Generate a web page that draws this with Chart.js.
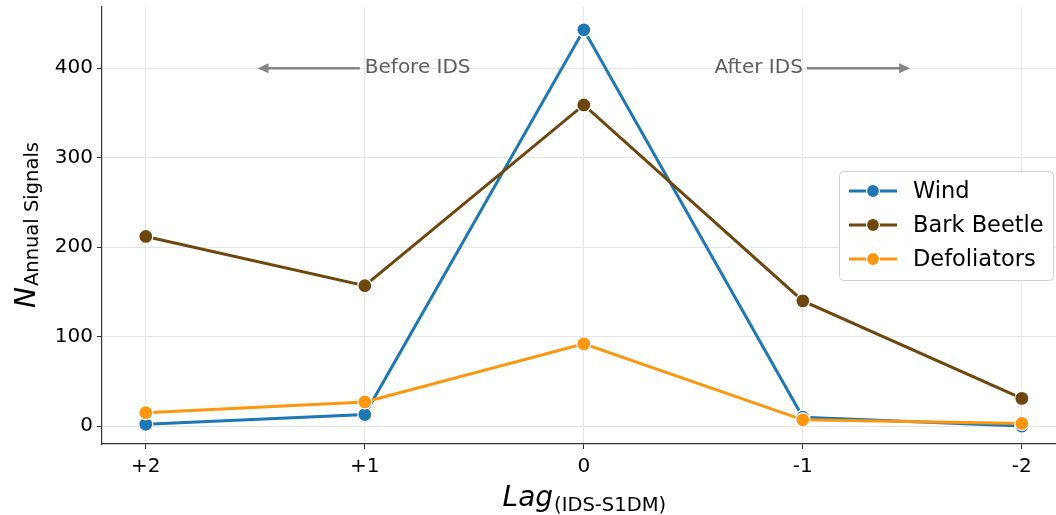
<!DOCTYPE html>
<html>
<head>
<meta charset="utf-8">
<script src="https://cdn.jsdelivr.net/npm/chart.js@4"></script>
<style>
  html, body { margin: 0; background: #fff; overflow: hidden; }
  #wrap { width: 1056px; height: 515px; }
</style>
</head>
<body>
<div id="wrap"><canvas id="lagChart"></canvas></div>
<script>
// values
const lagLabels = ['+2', '+1', '0', '-1', '-2'];
const windCounts = [2, 13, 443, 10, 0];
const barkBeetleCounts = [212, 157, 359, 140, 31];
const defoliatorCounts = [15, 27, 92, 7, 3];
const yTicks = [0, 100, 200, 300, 400];

const FONT = '"DejaVu Sans", Verdana, sans-serif';
const toPoints = arr => arr.map((v, i) => ({ x: i, y: v }));

const series = [
    { label: 'Wind', data: windCounts, color: '#1f77b4', order: 2 },
    { label: 'Bark Beetle', data: barkBeetleCounts, color: '#6e470f', order: 1 },
    { label: 'Defoliators', data: defoliatorCounts, color: '#ff9610', order: 0 }
];

function arrow(ctx, x1, y, x2) {
    const dir = Math.sign(x2 - x1);
    ctx.strokeStyle = '#858585';
    ctx.fillStyle = '#858585';
    ctx.lineWidth = 2.5;
    ctx.beginPath();
    ctx.moveTo(x1, y);
    ctx.lineTo(x2 - dir * 8, y);
    ctx.stroke();
    ctx.beginPath();
    ctx.moveTo(x2, y);
    ctx.lineTo(x2 - dir * 11, y - 5);
    ctx.lineTo(x2 - dir * 11, y + 5);
    ctx.closePath();
    ctx.fill();
}

// drop the automatic label overflow padding so the plot box is fixed
function noPad(scale) {
    scale.paddingLeft = 0;
    scale.paddingRight = 0;
    scale.paddingTop = 0;
    scale.paddingBottom = 0;
}

const extras = {
    id: 'extras',
    afterDatasetsDraw(chart) {
        const ctx = chart.ctx;
        const xs = chart.scales.x;
        const ys = chart.scales.y;
        ctx.save();

        // before / after annotations
        const ay = ys.getPixelForValue(400);
        ctx.font = '20px ' + FONT;
        ctx.fillStyle = '#5e5e5e';
        ctx.textBaseline = 'middle';
        ctx.textAlign = 'left';
        ctx.fillText('Before IDS', xs.getPixelForValue(1), ay);
        ctx.textAlign = 'right';
        ctx.fillText('After IDS', xs.getPixelForValue(3), ay);
        arrow(ctx, xs.getPixelForValue(1) - 5, ay, xs.getPixelForValue(0.51));
        arrow(ctx, xs.getPixelForValue(3) + 4, ay, xs.getPixelForValue(3.49));

        // legend
        const lx = 839, ly = 171, lw = 214, lh = 109;
        ctx.beginPath();
        ctx.roundRect(lx + 0.5, ly + 0.5, lw, lh, 4);
        ctx.fillStyle = 'rgba(255,255,255,0.85)';
        ctx.fill();
        ctx.strokeStyle = '#d0d0d0';
        ctx.lineWidth = 1;
        ctx.stroke();
        ctx.font = '22.5px ' + FONT;
        ctx.textAlign = 'left';
        ctx.textBaseline = 'middle';
        series.forEach((s, i) => {
            const ry = 191 + i * 34;
            ctx.strokeStyle = s.color;
            ctx.lineWidth = 3;
            ctx.beginPath();
            ctx.moveTo(849, ry);
            ctx.lineTo(897, ry);
            ctx.stroke();
            ctx.beginPath();
            ctx.arc(873, ry, 6.5, 0, Math.PI * 2);
            ctx.fillStyle = s.color;
            ctx.fill();
            ctx.strokeStyle = '#fff';
            ctx.lineWidth = 1.2;
            ctx.stroke();
            ctx.fillStyle = '#000';
            ctx.fillText(s.label, 913, ry + 1);
        });

        // x axis title: Lag_(IDS-S1DM)
        ctx.fillStyle = '#000';
        ctx.textBaseline = 'alphabetic';
        ctx.textAlign = 'left';
        const mainFont = 'italic 28px ' + FONT;
        const subFont = '19.5px ' + FONT;
        ctx.font = mainFont;
        const wLag = ctx.measureText('Lag').width;
        ctx.font = subFont;
        const wSub = ctx.measureText('(IDS-S1DM)').width;
        const sx = xs.getPixelForValue(2) - (wLag + wSub) / 2;
        ctx.font = mainFont;
        ctx.fillText('Lag', sx, 506);
        ctx.font = subFont;
        ctx.fillText('(IDS-S1DM)', sx + wLag + 1, 511);

        // y axis title: N_Annual Signals
        ctx.font = mainFont;
        const wN = ctx.measureText('N').width;
        ctx.font = subFont;
        const wA = ctx.measureText('Annual Signals').width;
        const cy = (chart.chartArea.top + chart.chartArea.bottom) / 2;
        ctx.translate(35, cy + (wN + wA) / 2);
        ctx.rotate(-Math.PI / 2);
        ctx.font = mainFont;
        ctx.fillText('N', 0, 0);
        ctx.font = subFont;
        ctx.fillText('Annual Signals', wN + 1, 3);

        ctx.restore();
    }
};

new Chart(document.getElementById('lagChart'), {
    type: 'line',
    data: {
        datasets: series.map(s => ({
            label: s.label,
            data: toPoints(s.data),
            order: s.order,
            borderColor: s.color,
            backgroundColor: s.color,
            pointBackgroundColor: s.color,
            pointBorderColor: '#fff',
            pointBorderWidth: 1.2,
            pointRadius: 7,
            borderWidth: 3,
            tension: 0,
            fill: false
        }))
    },
    options: {
        responsive: true,
        maintainAspectRatio: false,
        animation: false,
        layout: { autoPadding: false, padding: { top: 7, left: 0, right: 0, bottom: 0 } },
        plugins: { legend: { display: false }, tooltip: { enabled: false } },
        scales: {
            x: {
                type: 'linear',
                min: -0.2,
                max: 4.156,
                afterBuildTicks: scale => { scale.ticks = lagLabels.map((_, i) => ({ value: i })); },
                afterFit: scale => { scale.height = 71; noPad(scale); },
                ticks: {
                    callback: v => lagLabels[v],
                    color: '#000',
                    font: { family: FONT, size: 20 },
                    padding: 6,
                    maxRotation: 0
                },
                grid: { color: '#e6e6e6', tickColor: '#333', tickLength: 5 },
                border: { color: '#333', width: 1.2 }
            },
            y: {
                min: -20,
                max: 468.5,
                afterBuildTicks: scale => { scale.ticks = yTicks.map(v => ({ value: v })); },
                afterFit: scale => { scale.width = 102; noPad(scale); },
                ticks: {
                    color: '#000',
                    font: { family: FONT, size: 20 },
                    padding: 4
                },
                grid: { color: '#e6e6e6', tickColor: '#333', tickLength: 5 },
                border: { color: '#333', width: 1.2 }
            }
        }
    },
    plugins: [extras]
});
</script>
</body>
</html>
